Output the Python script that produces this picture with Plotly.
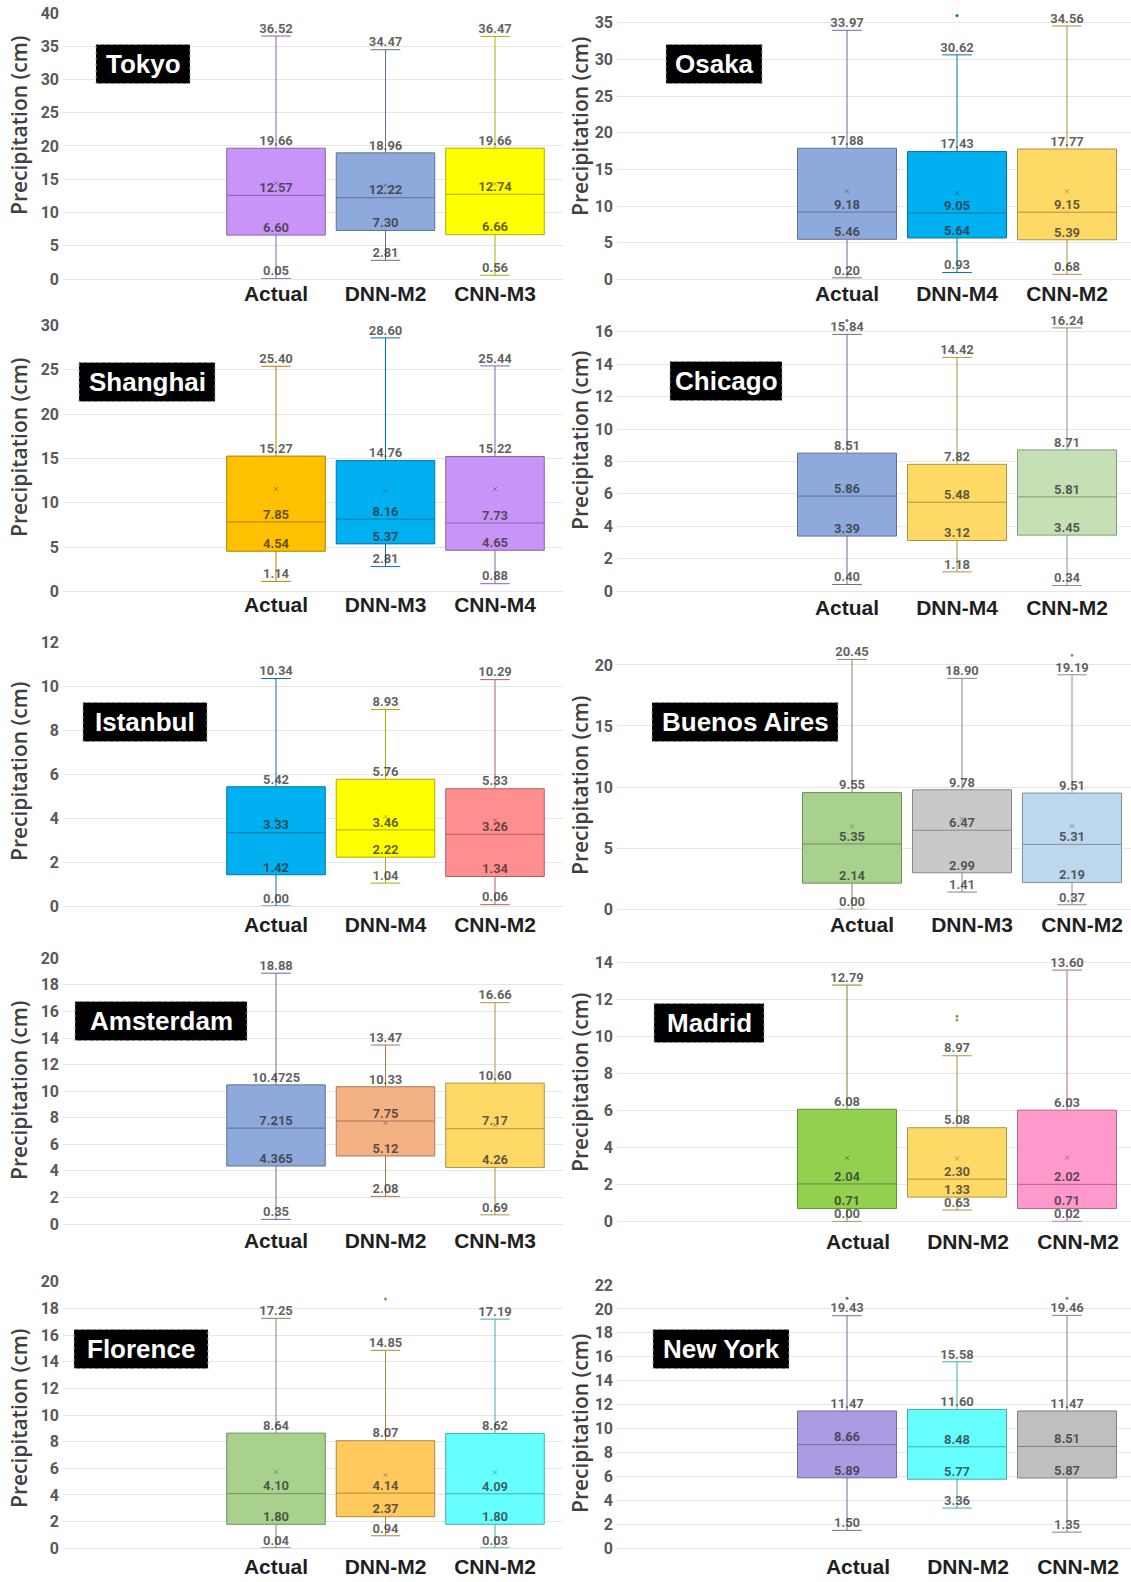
import plotly.graph_objects as go

# ---------------------------------------------------------------------------
# Data: monthly precipitation box statistics per city (cm)
# ---------------------------------------------------------------------------
city_names = ["Tokyo", "Osaka", "Shanghai", "Chicago", "Istanbul",
              "Buenos Aires", "Amsterdam", "Madrid", "Florence", "New York"]

categories = [
    ["Actual", "DNN-M2", "CNN-M3"],
    ["Actual", "DNN-M4", "CNN-M2"],
    ["Actual", "DNN-M3", "CNN-M4"],
    ["Actual", "DNN-M4", "CNN-M2"],
    ["Actual", "DNN-M4", "CNN-M2"],
    ["Actual", "DNN-M3", "CNN-M2"],
    ["Actual", "DNN-M2", "CNN-M3"],
    ["Actual", "DNN-M2", "CNN-M2"],
    ["Actual", "DNN-M2", "CNN-M2"],
    ["Actual", "DNN-M2", "CNN-M2"],
]

upper_whisker = [
    [36.52, 34.47, 36.47],
    [33.97, 30.62, 34.56],
    [25.40, 28.60, 25.44],
    [15.84, 14.42, 16.24],
    [10.34, 8.93, 10.29],
    [20.45, 18.90, 19.19],
    [18.88, 13.47, 16.66],
    [12.79, 8.97, 13.60],
    [17.25, 14.85, 17.19],
    [19.43, 15.58, 19.46],
]

q3_values = [
    [19.66, 18.96, 19.66],
    [17.88, 17.43, 17.77],
    [15.27, 14.76, 15.22],
    [8.51, 7.82, 8.71],
    [5.42, 5.76, 5.33],
    [9.55, 9.78, 9.51],
    [10.4725, 10.33, 10.60],
    [6.08, 5.08, 6.03],
    [8.64, 8.07, 8.62],
    [11.47, 11.60, 11.47],
]

median_values = [
    [12.57, 12.22, 12.74],
    [9.18, 9.05, 9.15],
    [7.85, 8.16, 7.73],
    [5.86, 5.48, 5.81],
    [3.33, 3.46, 3.26],
    [5.35, 6.47, 5.31],
    [7.215, 7.75, 7.17],
    [2.04, 2.30, 2.02],
    [4.10, 4.14, 4.09],
    [8.66, 8.48, 8.51],
]

q1_values = [
    [6.60, 7.30, 6.66],
    [5.46, 5.64, 5.39],
    [4.54, 5.37, 4.65],
    [3.39, 3.12, 3.45],
    [1.42, 2.22, 1.34],
    [2.14, 2.99, 2.19],
    [4.365, 5.12, 4.26],
    [0.71, 1.33, 0.71],
    [1.80, 2.37, 1.80],
    [5.89, 5.77, 5.87],
]

lower_whisker = [
    [0.05, 2.81, 0.56],
    [0.20, 0.93, 0.68],
    [1.14, 2.81, 0.88],
    [0.40, 1.18, 0.34],
    [0.00, 1.04, 0.06],
    [0.00, 1.41, 0.37],
    [0.35, 2.08, 0.69],
    [0.00, 0.63, 0.02],
    [0.04, 0.94, 0.03],
    [1.50, 3.36, 1.35],
]

mean_values = [
    [14.4, 14.1, 14.3],
    [12.0, 11.8, 12.0],
    [11.56, 11.3, 11.56],
    [6.4, 6.0, 6.4],
    [3.95, 4.05, 3.9],
    [6.77, 7.4, 6.8],
    [7.5, 7.6, 7.45],
    [3.44, 3.42, 3.47],
    [5.75, 5.5, 5.7],
    [9.1, 9.0, 9.0],
]

outlier_values = [
    [[], [], []],
    [[], [36.0], []],
    [[], [], []],
    [[16.7], [], []],
    [[], [], []],
    [[], [], [20.8]],
    [[], [], []],
    [[], [11.1, 10.9], []],
    [[], [18.7], []],
    [[20.9], [], [20.9]],
]

# ---------------------------------------------------------------------------
# Styling
# ---------------------------------------------------------------------------
box_fills = [
    ["#C894F7", "#8EA9DB", "#FFFF00"],
    ["#8EA9DB", "#00B0F0", "#FFD966"],
    ["#FFC000", "#00B0F0", "#C894F7"],
    ["#8EA9DB", "#FFD966", "#C5E0B4"],
    ["#00B0F0", "#FFFF00", "#FF8F8F"],
    ["#A9D18E", "#C9C9C9", "#BDD7EE"],
    ["#8EA9DB", "#F4B183", "#FFD966"],
    ["#92D050", "#FFD966", "#FF99CC"],
    ["#A9D18E", "#FFC95E", "#66FFFF"],
    ["#AB9BE3", "#66FFFF", "#BFBFBF"],
]

W, H = 1131, 1582

# per-panel geometry in pixels:
# (plot left, plot right, first box centre, box spacing,
#  y pixel of zero, pixels per unit, y max, dtick,
#  category-label shift, category-label standoff,
#  badge centre x, badge centre y, badge width, y-title centre y)
panels = [
    (63, 563, 276, 109.5, 279.0, 6.6525, 40.0, 5, 0, 0, 143, 64, 94, 126),
    (617, 1131, 847, 110, 279.3, 7.33, 37.9, 5, 0, 0, 714, 64, 96, 127),
    (63, 563, 276, 109.5, 591.5, 8.867, 30.0, 5, 0, -2, 147, 382, 136, 448),
    (617, 1131, 847, 110, 591.0, 16.2, 16.8, 2, 0, 2, 726, 381, 112, 441),
    (63, 563, 276, 109.5, 906.0, 22.0, 12.0, 2, 0, 4, 145, 722, 124, 772),
    (617, 1131, 852, 110, 909.3, 12.22, 22.7, 5, 10, 1, 745, 722, 186, 786),
    (63, 563, 276, 109.5, 1224.0, 13.285, 20.0, 2, 0, 2, 161, 1021, 172, 1091),
    (617, 1131, 847, 110, 1221.7, 18.5, 14.5, 2, 11, 5, 709, 1023, 110, 1083),
    (63, 563, 276, 109.5, 1548.3, 13.33, 20.0, 2, 0, 4, 141, 1349, 134, 1419),
    (617, 1131, 847, 110, 1548.3, 11.97, 22.0, 2, 11, 4, 721, 1349, 136, 1424),
]

LABEL_H = 39
VALUE_COLOR = "rgba(45,45,45,0.75)"
TICK_COLOR = "#595959"


def darken(hex_color, f):
    h = hex_color.lstrip("#")
    r, g, b = (int(h[i:i + 2], 16) for i in (0, 2, 4))
    return "#%02X%02X%02X" % (int(r * f), int(g * f), int(b * f))


def fmt(v):
    return f"{v:.2f}" if abs(round(v, 2) - v) < 1e-9 else str(v)


fig = go.Figure()
layout = dict(
    width=W, height=H,
    margin=dict(l=0, r=0, t=0, b=0, autoexpand=False),
    paper_bgcolor="white", plot_bgcolor="white",
    showlegend=False,
    annotations=[], shapes=[],
)

for i, city in enumerate(city_names):
    (px0, px1, c0, sp, y0px, ppu, ymax, dtick, shift, standoff,
     lcx, lcy, lw, tcy) = panels[i]
    xa = "x" if i == 0 else f"x{i + 1}"
    ya = "y" if i == 0 else f"y{i + 1}"
    xkey = "xaxis" if i == 0 else f"xaxis{i + 1}"
    ykey = "yaxis" if i == 0 else f"yaxis{i + 1}"

    cats = categories[i]
    for j, cat in enumerate(cats):
        fill = box_fills[i][j]
        lc = darken(fill, 0.68)
        fig.add_trace(go.Box(
            x=[cat], q1=[q1_values[i][j]], median=[median_values[i][j]],
            q3=[q3_values[i][j]], lowerfence=[lower_whisker[i][j]],
            upperfence=[upper_whisker[i][j]],
            fillcolor=fill, line=dict(color=lc, width=1),
            width=0.9, whiskerwidth=0.3, boxpoints=False,
            hoverinfo="skip", xaxis=xa, yaxis=ya,
        ))
        # mean marker
        fig.add_trace(go.Scatter(
            x=[cat], y=[mean_values[i][j]], mode="markers",
            marker=dict(symbol="x-thin", size=4, opacity=0.6,
                        line=dict(width=1, color=darken(fill, 0.5))),
            hoverinfo="skip", xaxis=xa, yaxis=ya, cliponaxis=False,
        ))
        # outliers
        outs = outlier_values[i][j]
        if outs:
            fig.add_trace(go.Scatter(
                x=[cat] * len(outs), y=outs, mode="markers",
                marker=dict(symbol="circle", size=3, color=lc),
                hoverinfo="skip", xaxis=xa, yaxis=ya, cliponaxis=False,
            ))
        # value labels for the five box statistics
        vals = [lower_whisker[i][j], q1_values[i][j], median_values[i][j],
                q3_values[i][j], upper_whisker[i][j]]
        fig.add_trace(go.Scatter(
            x=[cat] * 5, y=vals, mode="text",
            text=[fmt(v) for v in vals], textposition="top center",
            textfont=dict(family="Roboto", size=13, weight=700,
                          color=VALUE_COLOR),
            hoverinfo="skip", xaxis=xa, yaxis=ya, cliponaxis=False,
        ))

    lo = -(c0 - px0) / sp
    hi = (px1 - c0) / sp
    ytop = y0px - ymax * ppu
    layout[xkey] = dict(
        domain=[px0 / W, px1 / W], anchor=ya, automargin=False,
        type="category", categoryorder="array", categoryarray=cats,
        range=[lo, hi], showgrid=False, zeroline=False, showline=False,
        ticks="", ticklabelstandoff=standoff, ticklabelshift=shift,
        tickfont=dict(family="Liberation Sans, Arial", size=21, weight=700,
                      color="#1F1F1F"),
    )
    layout[ykey] = dict(
        domain=[1 - y0px / H, 1 - ytop / H], anchor=xa, automargin=False,
        range=[0, ymax], dtick=dtick, tick0=0,
        showgrid=True, gridcolor="#E6E6E6", gridwidth=1,
        zeroline=True, zerolinecolor="#E6E6E6", zerolinewidth=1,
        showline=False, ticks="",
        ticklabelstandoff=3,
        tickfont=dict(family="Roboto", size=16, weight=700, color=TICK_COLOR),
    )

    # y-axis title
    tx = 19 if px0 < 500 else 580
    layout["annotations"].append(dict(
        text="Precipitation (cm)", textangle=-90,
        xref="paper", yref="paper", x=tx / W, y=1 - tcy / H,
        xanchor="center", yanchor="middle", showarrow=False,
        font=dict(family="Open Sans", size=21, weight=600, color="#404040"),
    ))

    # city name badge
    layout["shapes"].append(dict(
        type="rect", xref="paper", yref="paper",
        x0=(lcx - lw / 2) / W, x1=(lcx + lw / 2) / W,
        y0=1 - (lcy + LABEL_H / 2) / H, y1=1 - (lcy - LABEL_H / 2) / H,
        fillcolor="black", line=dict(color="#AAAAAA", width=1, dash="dot"),
        layer="above",
    ))
    layout["annotations"].append(dict(
        text=city, xref="paper", yref="paper",
        x=lcx / W, y=1 - lcy / H, xanchor="center", yanchor="middle",
        showarrow=False,
        font=dict(family="Liberation Sans, Arial", size=26, weight=700,
                  color="white"),
    ))

fig.update_layout(**layout)
fig.write_html("out.html")
